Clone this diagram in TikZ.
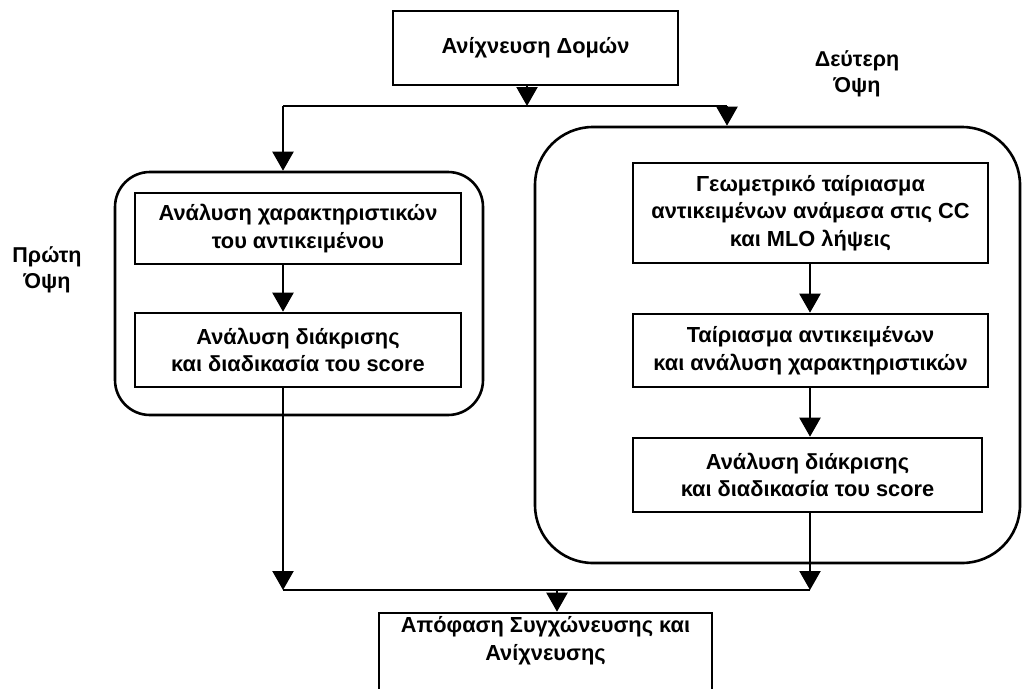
\documentclass[tikz,border=0pt]{standalone}
\usepackage{fontspec}
\setmainfont{Liberation Sans}
\usetikzlibrary{arrows.meta}
\begin{document}
\begin{tikzpicture}[x=1pt,y=-1pt,
  box/.style={draw, line width=2.6pt, rectangle, inner sep=0pt, align=center,
    font=\bfseries\fontsize{21.8}{27.5}\selectfont},
  grp/.style={draw, line width=2.6pt, rectangle, inner sep=0pt, rounded corners=#1},
  conn/.style={line width=2.2pt},
  arr/.style={line width=2.2pt, -{Triangle[length=19pt,width=21pt]}},
  lbl/.style={align=center, inner sep=0pt, font=\bfseries\fontsize{21.5}{26}\selectfont}
]
\useasboundingbox (0,0) rectangle (1027,688);
\clip (0,0) rectangle (1027,688);

% top
\node[box, minimum width=285pt, minimum height=74pt] (top) at (535.5,48) {Ανίχνευση Δομών};

% groups
\node[grp=35pt, minimum width=368pt, minimum height=243pt] (lgrp) at (299,293.5) {};
\node[grp=58pt, minimum width=485pt, minimum height=436pt] (rgrp) at (777.5,345) {};

% left inner boxes
\node[box, minimum width=326pt, minimum height=71pt] (L1) at (298,228.5)
  {Ανάλυση χαρακτηριστικών\\του αντικειμένου};
\node[box, minimum width=326pt, minimum height=74pt] (L2) at (298,350)
  {Ανάλυση διάκρισης\\και διαδικασία του score};

% right inner boxes
\node[box, minimum width=355pt, minimum height=100pt] (R1) at (810.5,213)
  {Γεωμετρικό ταίριασμα\\αντικειμένων ανάμεσα στις CC\\και MLO λήψεις};
\node[box, minimum width=355pt, minimum height=73pt] (R2) at (810.5,350.5)
  {Ταίριασμα αντικειμένων\\και ανάλυση χαρακτηριστικών};
\node[box, minimum width=349pt, minimum height=74pt] (R3) at (807.5,475)
  {Ανάλυση διάκρισης\\και διαδικασία του score};

% bottom box
\node[box, minimum width=333pt, minimum height=87pt] (bot) at (545.5,656.5)
  {Απόφαση Συγχώνευσης και\\Ανίχνευσης\\\strut};

% labels
\node[lbl] (p1) at (47,270) {Πρώτη\\Όψη};
\node[lbl] (p2) at (857,74) {Δεύτερη\\Όψη};

% junctions
\coordinate (j1) at (527,106);
\coordinate (jl) at (283,106);
\coordinate (jr) at (727,106);
\coordinate (xr) at (810,0);
\coordinate (bl) at (283,590);
\coordinate (br) at (810,590);
\coordinate (bm) at (557,590);

% connectors
\draw[arr] (top.south -| j1) -- (j1);
\draw[conn] (jl) -- (jr);
\draw[arr] (jl) -- (jl |- lgrp.north);
\draw[arr] (jr) -- (jr |- rgrp.north);
\draw[arr] (L1.south -| jl) -- (L2.north -| jl);
\draw[arr] (L2.south -| jl) -- (bl);
\draw[arr] (R1.south -| xr) -- (R2.north -| xr);
\draw[arr] (R2.south -| xr) -- (R3.north -| xr);
\draw[arr] (R3.south -| xr) -- (br);
\draw[conn] (bl) -- (br);
\draw[arr] (bm) -- (bot.north -| bm);
\end{tikzpicture}
\end{document}
